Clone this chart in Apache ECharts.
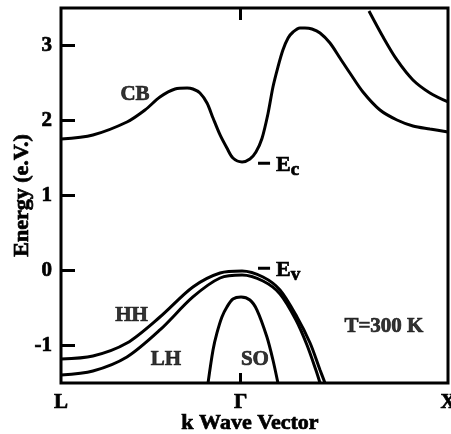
<!DOCTYPE html>
<html>
<head>
<meta charset="utf-8">
<script src="https://cdn.jsdelivr.net/npm/echarts@6/dist/echarts.min.js"></script>
<style>
html,body{margin:0;padding:0;background:#fff;}
#chart{width:451px;height:434px;}
</style>
</head>
<body>
<div id="chart"></div>
<script>
// ---- axis ticks ----
const kTickValues = [-0.866, 0, 1];
const kTickLabels = ['L', 'Γ', 'X'];
const energyTicks = [-1, 0, 1, 2, 3];

// ---- conduction band (k, E) ----
const cbK = [-0.866,-0.712,-0.548,-0.461,-0.389,-0.316,-0.258,-0.230,-0.196,-0.162,-0.133,-0.099,-0.066,-0.037,0.007,0.045,0.074,0.103,0.132,0.156,0.180,0.204,0.229,0.253,0.286,0.310,0.344,0.383,0.431,0.479,0.527,0.590,0.672,0.754,0.831,0.913,1.000];
const cbE = [1.753,1.807,1.980,2.140,2.313,2.420,2.433,2.420,2.367,2.233,2.033,1.807,1.633,1.500,1.447,1.487,1.580,1.760,2.090,2.447,2.713,2.940,3.100,3.180,3.233,3.233,3.220,3.167,3.033,2.833,2.633,2.380,2.140,2.007,1.927,1.887,1.847];

// ---- upper conduction band near X ----
const cb2K = [0.619,0.687,0.754,0.831,0.913,1.000];
const cb2E = [3.46,3.113,2.807,2.540,2.367,2.247];

// ---- heavy hole ----
const hhK = [-0.866,-0.712,-0.548,-0.389,-0.230,-0.099,0.007,0.108,0.190,0.272,0.335,0.383,0.407];
const hhE = [-1.180,-1.140,-0.967,-0.620,-0.220,-0.033,-0.007,-0.087,-0.260,-0.620,-0.967,-1.327,-1.50];

// ---- light hole ----
const lhK = [-0.866,-0.712,-0.548,-0.389,-0.230,-0.099,0.007,0.108,0.190,0.267,0.320,0.363,0.383];
const lhE = [-1.393,-1.340,-1.153,-0.793,-0.353,-0.100,-0.060,-0.140,-0.313,-0.660,-0.993,-1.327,-1.50];

// ---- split-off band ----
const soK = [-0.157,-0.133,-0.114,-0.090,-0.066,-0.037,0.002,0.045,0.079,0.127,0.156,0.180];
const soE = [-1.50,-1.060,-0.833,-0.620,-0.487,-0.380,-0.353,-0.393,-0.527,-0.887,-1.193,-1.50];

// ---- band edges ----
const edgeNames = ['c', 'v'];
const edgeEnergies = [1.43, 0.03];
const edgeK = [0.084, 0.142];

// ---- text annotations ----
const noteTexts = ['CB', 'HH', 'LH', 'SO', 'T=300 K'];
const noteK = [-0.509, -0.526, -0.360, 0.069, 0.691];
const noteE = [2.34, -0.607, -1.187, -1.193, -0.747];

const FONT = "'Liberation Serif', 'Times New Roman', serif";
const zip = (a, b) => a.map((v, i) => [v, b[i]]);
const txt = (size) => ({ fontFamily: FONT, fontWeight: 'bold', fontSize: size, color: '#000', textBorderColor: '#000', textBorderWidth: 0.7 });

const curveStyle = { color: '#000', width: 3 };
function curve(name, k, e) {
  return {
    name, type: 'line', data: zip(k, e), smooth: 0.3, symbol: 'none',
    lineStyle: curveStyle, itemStyle: { color: '#000' }, silent: true, z: 3
  };
}

const series = [
  curve('CB', cbK, cbE),
  curve('CB upper', cb2K, cb2E),
  curve('HH', hhK, hhE),
  curve('LH', lhK, lhE),
  curve('SO', soK, soE)
];

edgeNames.forEach((nm, i) => {
  series.push({
    name: 'E' + nm, type: 'line', symbol: 'none', silent: true,
    data: [[edgeK[0], edgeEnergies[i]], [edgeK[1], edgeEnergies[i]]],
    lineStyle: { color: '#000', width: 3 },
    itemStyle: { color: '#000' },
    endLabel: {
      show: true, distance: 6, valueAnimation: false,
      formatter: () => '{E|E}{s|' + nm + '}',
      rich: {
        E: Object.assign(txt(22), { lineHeight: 22, padding: [4, 0, 0, 0] }),
        s: Object.assign(txt(19), { lineHeight: 19, padding: [14, 0, 0, 0] })
      }
    }
  });
});

series.push({
  name: 'notes', type: 'scatter', symbolSize: 0, silent: true,
  data: noteTexts.map((t, i) => ({ value: [noteK[i], noteE[i]], name: t })),
  label: Object.assign({ show: true, position: 'inside', formatter: (p) => p.name }, txt(21))
});

const chart = echarts.init(document.getElementById('chart'), null, { renderer: 'canvas' });
chart.setOption({
  animation: false,
  backgroundColor: '#fff',
  grid: { left: 61, top: 8, width: 387, height: 375, show: true, borderColor: '#000', borderWidth: 3,
          backgroundColor: 'transparent', containLabel: false, outerBoundsMode: 'none' },
  xAxis: [{
    type: 'value', min: -0.866, max: 1, position: 'bottom',
    name: 'k Wave Vector', nameLocation: 'middle', nameGap: 29, nameMoveOverlap: false,
    nameTextStyle: Object.assign(txt(22), { padding: [0, 9, 0, 0] }),
    axisLine: { show: false, onZero: false },
    splitLine: { show: false },
    axisTick: { show: true, inside: true, length: 10, customValues: [0], lineStyle: { color: '#000', width: 3 } },
    axisLabel: Object.assign({
      show: true, customValues: kTickValues, margin: 9,
      formatter: (v) => { const i = kTickValues.findIndex(t => Math.abs(t - v) < 1e-6); return i >= 0 ? kTickLabels[i] : ''; }
    }, txt(21))
  }, {
    type: 'value', min: -0.866, max: 1, position: 'top',
    axisLine: { show: false, onZero: false }, splitLine: { show: false },
    axisTick: { show: true, inside: true, length: 12, customValues: [0], lineStyle: { color: '#000', width: 3 } },
    axisLabel: { show: false }
  }],
  yAxis: {
    type: 'value', min: -1.5, max: 3.5,
    name: 'Energy (e.V.)', nameLocation: 'middle', nameGap: 28, nameRotate: 90, nameMoveOverlap: false,
    nameTextStyle: txt(22),
    axisLine: { show: false, onZero: false },
    splitLine: { show: false },
    axisTick: { show: true, inside: true, length: 14, customValues: energyTicks, lineStyle: { color: '#000', width: 3 } },
    axisLabel: Object.assign({
      show: true, customValues: energyTicks, margin: 9,
      formatter: (v) => String(v)
    }, txt(21))
  },
  series
});
</script>
</body>
</html>
